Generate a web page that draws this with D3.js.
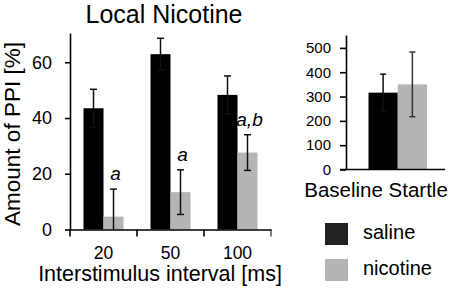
<!DOCTYPE html>
<html>
<head>
<meta charset="utf-8">
<script src="https://cdn.jsdelivr.net/npm/d3@7"></script>
<style>
  body { margin: 0; background: #fff; }
  svg { font-family: "Liberation Sans", Arial, sans-serif; }
</style>
</head>
<body>
<div id="chart"></div>
<script>
// PPI data
const categories = ['20', '50', '100'];
const series = ['saline', 'nicotine'];
const salineMean = [43.5, 62.9, 48.3];
const salineErr = [6.8, 5.7, 6.8];
const nicotineMean = [4.6, 13.4, 27.6];
const nicotineErr = [9.9, 8.0, 6.4];
const annotations = ['a', 'a', 'a,b'];
const ppiTicks = [0, 20, 40, 60];

// baseline startle
const startleMean = [316, 350];
const startleErr = [76, 133];
const startleTicks = [0, 100, 200, 300, 400, 500];

const colors = { saline: '#000000', nicotine: '#b4b4b4' };
const legendColors = { saline: '#222222', nicotine: '#b4b4b4' };

const svg = d3.select('#chart')
  .append('svg')
  .attr('width', 454)
  .attr('height', 288);

// ---- main panel ----
const x0 = d3.scaleBand().domain(categories).range([70, 271]);
const x1 = d3.scaleBand().domain(series).range([0, 40]);
const y = d3.scaleLinear().domain([0, 70.5]).range([229.5, 33]);
const off = (x0.bandwidth() - 40) / 2;

const rows = categories.map((c, i) => ({
  cat: c,
  vals: [
    { s: 'saline', m: salineMean[i], e: salineErr[i] },
    { s: 'nicotine', m: nicotineMean[i], e: nicotineErr[i] }
  ],
  note: annotations[i]
}));

const groups = svg.selectAll('g.grp')
  .data(rows)
  .enter()
  .append('g')
  .attr('transform', d => `translate(${x0(d.cat) + off},0)`);

groups.selectAll('rect')
  .data(d => d.vals)
  .enter()
  .append('rect')
  .attr('x', d => x1(d.s))
  .attr('y', d => y(d.m))
  .attr('width', x1.bandwidth())
  .attr('height', d => y(0) - y(d.m))
  .attr('fill', d => colors[d.s]);

// error bars
const eb = groups.selectAll('g.eb')
  .data(d => d.vals)
  .enter()
  .append('g')
  .attr('stroke', '#111')
  .attr('stroke-width', 1.5);
eb.append('line')
  .attr('x1', d => x1(d.s) + x1.bandwidth() / 2)
  .attr('x2', d => x1(d.s) + x1.bandwidth() / 2)
  .attr('y1', d => y(d.m + d.e))
  .attr('y2', d => y(Math.max(0, d.m - d.e)));
eb.append('line')
  .attr('x1', d => x1(d.s) + x1.bandwidth() / 2 - 3.5)
  .attr('x2', d => x1(d.s) + x1.bandwidth() / 2 + 3.5)
  .attr('y1', d => y(d.m + d.e))
  .attr('y2', d => y(d.m + d.e));
eb.filter(d => d.m - d.e > 0).append('line')
  .attr('x1', d => x1(d.s) + x1.bandwidth() / 2 - 3.5)
  .attr('x2', d => x1(d.s) + x1.bandwidth() / 2 + 3.5)
  .attr('y1', d => y(d.m - d.e))
  .attr('y2', d => y(d.m - d.e));

// significance letters over nicotine bars
groups.append('text')
  .attr('x', x1('nicotine') + x1.bandwidth() / 2 + 2)
  .attr('y', d => y(d.vals[1].m + d.vals[1].e) - 9)
  .attr('text-anchor', 'middle')
  .attr('font-style', 'italic')
  .attr('font-size', 19)
  .text(d => d.note);

// axes
const yAxis = svg.append('g')
  .attr('transform', 'translate(70,0)')
  .call(d3.axisLeft(y).tickValues(ppiTicks).tickSize(5).tickPadding(13).tickSizeOuter(0));
yAxis.selectAll('text').attr('font-size', 18).attr('fill', '#000');

const xAxis = svg.append('g')
  .attr('transform', `translate(0,${y(0)})`)
  .call(d3.axisBottom(x0).tickSize(0).tickPadding(17).tickSizeOuter(0));
xAxis.selectAll('text').attr('font-size', 17.5).attr('fill', '#000');
xAxis.selectAll('.tick')
  .data(categories)
  .append('line')
  .attr('x1', -x0.bandwidth() / 2)
  .attr('x2', -x0.bandwidth() / 2)
  .attr('y2', 7)
  .attr('stroke', '#000');
xAxis.append('line')
  .attr('x1', x0.range()[1])
  .attr('x2', x0.range()[1])
  .attr('y2', 7)
  .attr('stroke', '#000');
svg.selectAll('.domain, .tick line').attr('stroke', '#000').attr('stroke-width', 1.6);

svg.append('text')
  .attr('x', 164)
  .attr('y', 23)
  .attr('text-anchor', 'middle')
  .attr('font-size', 25)
  .text('Local Nicotine');

svg.append('text')
  .attr('transform', 'translate(20,134) rotate(-90)')
  .attr('text-anchor', 'middle')
  .attr('font-size', 22.5)
  .text('Amount of PPI [%]');

svg.append('text')
  .attr('x', 160)
  .attr('y', 281)
  .attr('text-anchor', 'middle')
  .attr('font-size', 21.5)
  .text('Interstimulus interval [ms]');

// ---- baseline startle panel ----
const xs = d3.scaleBand().domain(series).range([368.5, 427]);
const ys = d3.scaleLinear().domain([0, 553]).range([169.5, 35]);

const startle = series.map((s, i) => ({ s: s, m: startleMean[i], e: startleErr[i] }));

svg.selectAll('rect.st')
  .data(startle)
  .enter()
  .append('rect')
  .attr('x', d => xs(d.s))
  .attr('y', d => ys(d.m))
  .attr('width', xs.bandwidth())
  .attr('height', d => ys(0) - ys(d.m))
  .attr('fill', d => colors[d.s]);

const seb = svg.selectAll('g.seb')
  .data(startle)
  .enter()
  .append('g')
  .attr('stroke', d => d.s === 'saline' ? '#111' : '#333')
  .attr('stroke-width', 1.5);
seb.append('line')
  .attr('x1', d => xs(d.s) + xs.bandwidth() / 2)
  .attr('x2', d => xs(d.s) + xs.bandwidth() / 2)
  .attr('y1', d => ys(d.m + d.e))
  .attr('y2', d => ys(d.m - d.e));
[1, -1].forEach(k => {
  seb.append('line')
    .attr('x1', d => xs(d.s) + xs.bandwidth() / 2 - 3)
    .attr('x2', d => xs(d.s) + xs.bandwidth() / 2 + 3)
    .attr('y1', d => ys(d.m + k * d.e))
    .attr('y2', d => ys(d.m + k * d.e));
});

const syAxis = svg.append('g')
  .attr('transform', 'translate(346,0)')
  .call(d3.axisLeft(ys).tickValues(startleTicks).tickSize(6).tickPadding(9).tickSizeOuter(0));
syAxis.selectAll('text').attr('font-size', 15).attr('fill', '#000');
syAxis.selectAll('.domain, .tick line').attr('stroke', '#000').attr('stroke-width', 1.6);

svg.append('line')
  .attr('x1', 340)
  .attr('x2', 445)
  .attr('y1', ys(0))
  .attr('y2', ys(0))
  .attr('stroke', '#000')
  .attr('stroke-width', 1.6);

svg.append('text')
  .attr('x', 376)
  .attr('y', 196.5)
  .attr('text-anchor', 'middle')
  .attr('font-size', 20.5)
  .text('Baseline Startle');

// ---- legend ----
const legend = svg.selectAll('g.leg')
  .data(series)
  .enter()
  .append('g')
  .attr('transform', (d, i) => `translate(325,${223 + i * 36})`);
legend.append('rect')
  .attr('width', 23)
  .attr('height', 22)
  .attr('fill', d => legendColors[d]);
legend.append('text')
  .attr('x', 38)
  .attr('y', 16)
  .attr('font-size', 20)
  .text(d => d);
</script>
</body>
</html>
